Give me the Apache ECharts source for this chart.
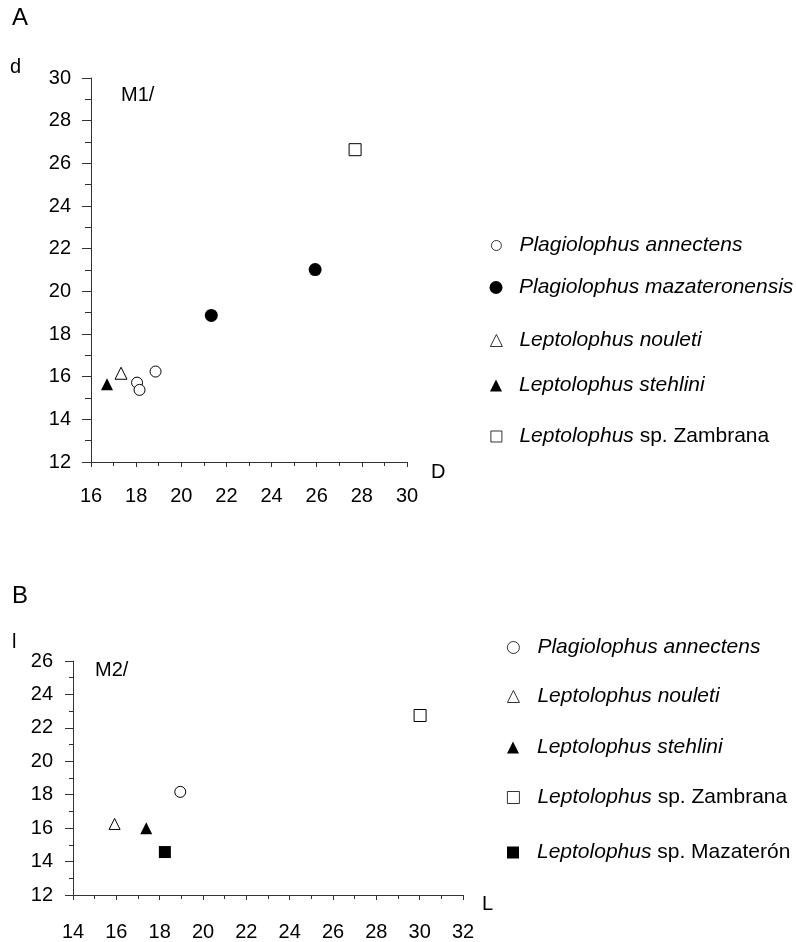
<!DOCTYPE html>
<html>
<head>
<meta charset="utf-8">
<script src="https://cdn.jsdelivr.net/npm/echarts@6/dist/echarts.min.js"></script>
<style>
  html, body { margin: 0; padding: 0; background: #fff; }
  #chart { width: 796px; height: 942px; }
</style>
</head>
<body>
<div id="chart"></div>
<script>
// panel A : M1/ , D (x) vs d (y)
const a_annectens = [[18.04, 15.72], [18.15, 15.38], [18.86, 16.24]];
const a_mazateronensis = [[21.33, 18.87], [25.93, 21.02]];
const a_nouleti = [[17.33, 16.16]];
const a_stehlini = [[16.71, 15.64]];
const a_zambrana = [[27.70, 26.64]];
const a_xRange = [16, 30];
const a_yRange = [12, 30];

// panel B : M2/ , L (x) vs l (y)
const b_annectens = [[18.95, 18.17]];
const b_nouleti = [[15.92, 16.25]];
const b_stehlini = [[17.38, 16.00]];
const b_zambrana = [[30.02, 22.74]];
const b_mazateron = [[18.24, 14.57]];
const b_xRange = [14, 32];
const b_yRange = [12, 26];

const tickStep = 2;

const NAMES = {
  annectens: 'Plagiolophus annectens',
  mazateronensis: 'Plagiolophus mazateronensis',
  nouleti: 'Leptolophus nouleti',
  stehlini: 'Leptolophus stehlini',
  zambrana: 'Leptolophus sp. Zambrana',
  mazateron: 'Leptolophus sp. Mazaterón'
};

const FONT = '"Liberation Sans", Arial, Helvetica, sans-serif';
const INK = '#000';
const AXIS = '#333';

var openStyle = {color: '#fff', borderColor: INK, borderWidth: 1, opacity: 1};
var fillStyle = {color: INK, borderColor: INK, borderWidth: 0, opacity: 1};

function makeX(range, idx, tickLen, labelGap) {
  return {
    type: 'value', gridIndex: idx, min: range[0], max: range[1], interval: tickStep,
    splitLine: {show: false},
    axisLine: {show: true, onZero: false, lineStyle: {color: AXIS, width: 1}},
    axisTick: {show: true, length: tickLen, lineStyle: {color: AXIS}},
    minorTick: {show: true, splitNumber: 2, length: 4, lineStyle: {color: AXIS}},
    axisLabel: {color: INK, fontSize: 20, fontFamily: FONT, margin: labelGap}
  };
}
function makeY(range, idx, tickLen, minorLen) {
  return {
    type: 'value', gridIndex: idx, min: range[0], max: range[1], interval: tickStep,
    splitLine: {show: false},
    axisLine: {show: true, onZero: false, lineStyle: {color: AXIS, width: 1}},
    axisTick: {show: true, length: tickLen, lineStyle: {color: AXIS}},
    minorTick: {show: true, splitNumber: 2, length: minorLen, lineStyle: {color: AXIS}},
    axisLabel: {color: INK, fontSize: 20, fontFamily: FONT, margin: 20}
  };
}

function sc(name, data, symbol, size, style, idx) {
  return {
    name: name, type: 'scatter', xAxisIndex: idx, yAxisIndex: idx,
    data: data, symbol: symbol, symbolSize: size,
    itemStyle: style,
    emphasis: {disabled: true}
  };
}

function legendLabel(name) {
  // genus italic; "sp. xxx" upright
  var m = name.match(/^(\S+)( sp\. .*)$/);
  if (m) return '{i|' + m[1] + '}{n|' + m[2] + '}';
  return '{i|' + name + '}';
}

function leg(name, cx, cy, size, textGap, filled) {
  return {
    data: [name], orient: 'vertical', padding: 0,
    left: cx - size / 2, top: cy - 10,
    itemWidth: size, itemHeight: size,
    selectedMode: false,
    formatter: legendLabel,
    itemStyle: filled ? {borderWidth: 0} : {borderWidth: 0.8, borderColor: INK, color: '#fff'},
    textStyle: {
      padding: [0, 0, 0, textGap - size / 2 - 5],
      rich: {
        i: {fontSize: 21, fontFamily: FONT, fontStyle: 'italic', color: INK},
        n: {fontSize: 21, fontFamily: FONT, color: INK}
      }
    }
  };
}

function label(text, x, y, size) {
  return {
    type: 'text', left: x, top: y,
    style: {text: text, fontSize: size || 20, fontFamily: FONT, fill: INK}
  };
}

var myChart = echarts.init(document.getElementById('chart'));
var option = {
  backgroundColor: '#fff',
  animation: false,
  grid: [
    {left: 91, top: 78, width: 316, height: 384},
    {left: 73, top: 661, width: 390, height: 236}
  ],
  xAxis: [makeX(a_xRange, 0, 5, 24), makeX(b_xRange, 1, 5, 27)],
  yAxis: [makeY(a_yRange, 0, 9, 6), makeY(b_yRange, 1, 8, 4)],
  legend: [
    leg(NAMES.annectens, 496, 245, 10, 23, false),
    leg(NAMES.mazateronensis, 496, 287, 13, 23, true),
    leg(NAMES.nouleti, 496, 340, 12, 23, false),
    leg(NAMES.stehlini, 496, 385, 12, 23, true),
    leg(NAMES.zambrana, 496, 436, 11, 23, false),
    leg(NAMES.annectens, 513, 647, 12, 24, false),
    leg(NAMES.nouleti, 513, 696, 12, 24, false),
    leg(NAMES.stehlini, 513, 747, 12, 24, true),
    leg(NAMES.zambrana, 513, 797, 12, 24, false),
    leg(NAMES.mazateron, 513, 852, 12, 24, true)
  ],
  graphic: [
    label('A', 12, 6, 24),
    label('d', 10, 57),
    label('M1/', 121, 85),
    label('D', 431, 462),
    label('B', 12, 584, 24),
    label('l', 12, 632),
    label('M2/', 95, 660),
    label('L', 482, 894)
  ],
  series: [
    sc(NAMES.annectens, a_annectens, 'circle', 11, openStyle, 0),
    sc(NAMES.mazateronensis, a_mazateronensis, 'circle', 13, fillStyle, 0),
    sc(NAMES.nouleti, a_nouleti, 'triangle', 12, openStyle, 0),
    sc(NAMES.stehlini, a_stehlini, 'triangle', 12, fillStyle, 0),
    sc(NAMES.zambrana, a_zambrana, 'rect', 12, openStyle, 0),
    sc(NAMES.annectens, b_annectens, 'circle', 11, openStyle, 1),
    sc(NAMES.nouleti, b_nouleti, 'triangle', 11, openStyle, 1),
    sc(NAMES.stehlini, b_stehlini, 'triangle', 12, fillStyle, 1),
    sc(NAMES.zambrana, b_zambrana, 'rect', 12, openStyle, 1),
    sc(NAMES.mazateron, b_mazateron, 'rect', 12, fillStyle, 1)
  ]
};
option && myChart.setOption(option);
</script>
</body>
</html>
